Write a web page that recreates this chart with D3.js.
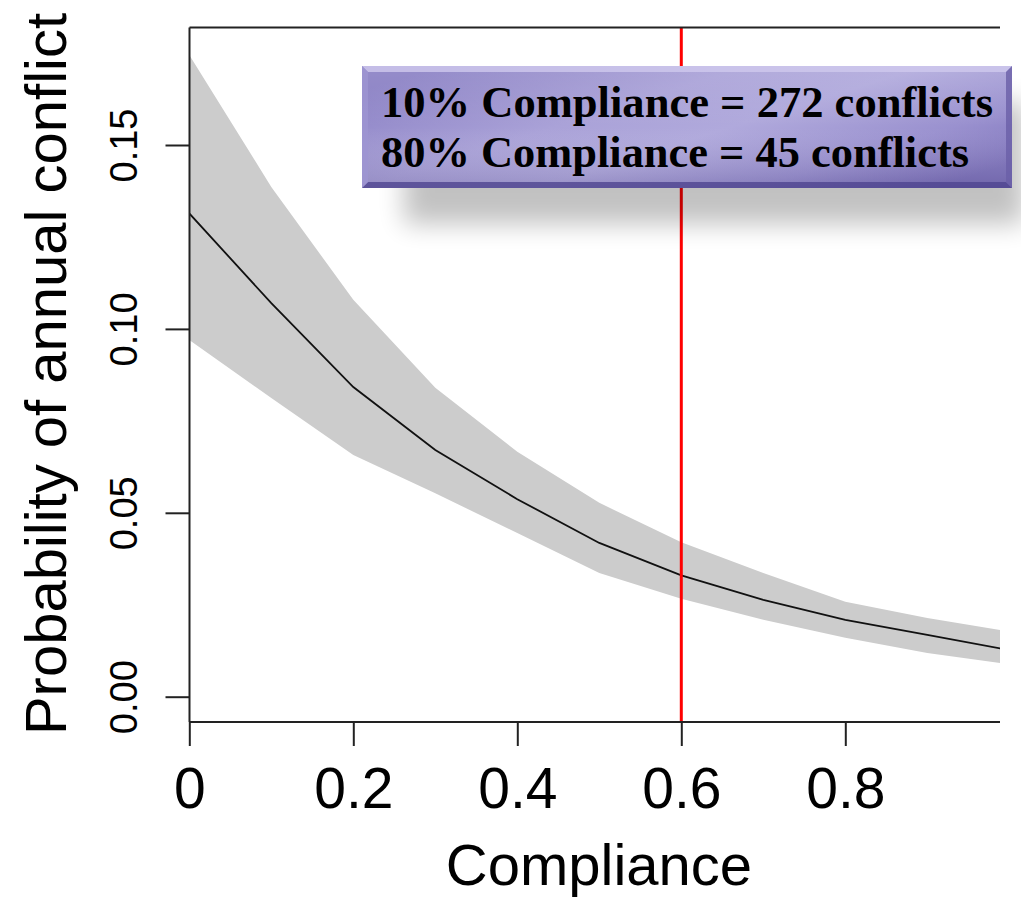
<!DOCTYPE html>
<html>
<head>
<meta charset="utf-8">
<script src="https://cdn.jsdelivr.net/npm/d3@7"></script>
<style>
html,body{margin:0;padding:0;background:#fff;}
svg{display:block;}
</style>
</head>
<body>
<svg id="chart" width="1021" height="897"></svg>
<script>
// ---- data ----
const compliance = [0, 0.1, 0.2, 0.3, 0.4, 0.5, 0.6, 0.7, 0.8, 0.9, 0.99];
const meanProb   = [0.1314, 0.1070, 0.0842, 0.0671, 0.0537, 0.0418, 0.0330, 0.0263, 0.0209, 0.0168, 0.0131];
const upperProb  = [0.1745, 0.1386, 0.1079, 0.0840, 0.0666, 0.0527, 0.0420, 0.0336, 0.0258, 0.0214, 0.0181];
const lowerProb  = [0.0970, 0.0812, 0.0657, 0.0553, 0.0445, 0.0336, 0.0266, 0.0209, 0.0160, 0.0119, 0.0091];
const xTicks = [0, 0.2, 0.4, 0.6, 0.8];
const xTickLabels = ["0", "0.2", "0.4", "0.6", "0.8"];
const yTicks = [0, 0.05, 0.10, 0.15];
const yTickLabels = ["0.00", "0.05", "0.10", "0.15"];
const markerX = 0.6;
const annotationLines = ["10% Compliance = 272 conflicts", "80% Compliance = 45 conflicts"];
const xTitle = "Compliance";
const yTitle = "Probability of annual conflict";

// ---- layout ----
const svg = d3.select("#chart");
const plotLeft = 189.5, plotRight = 1000, plotTop = 27.5, plotBottom = 722;
const x = d3.scaleLinear().domain([0, 1]).range([189.3, 1009.3]);
const y = d3.scaleLinear().domain([0, 0.15]).range([696.7, 145]);

const defs = svg.append("defs");
defs.append("clipPath").attr("id", "plotclip")
  .append("rect").attr("x", plotLeft).attr("y", plotTop)
  .attr("width", plotRight - plotLeft).attr("height", plotBottom - plotTop);

const data = compliance.map((c, i) => ({c, m: meanProb[i], u: upperProb[i], l: lowerProb[i]}));

const plot = svg.append("g").attr("clip-path", "url(#plotclip)");
plot.append("path").datum(data)
  .attr("d", d3.area().x(d => x(d.c)).y0(d => y(d.l)).y1(d => y(d.u)))
  .attr("fill", "#cccccc");
plot.append("path").datum(data)
  .attr("d", d3.line().x(d => x(d.c)).y(d => y(d.m)))
  .attr("fill", "none").attr("stroke", "#111").attr("stroke-width", 1.8);

// red marker line
svg.append("line")
  .attr("x1", x(markerX)).attr("x2", x(markerX))
  .attr("y1", plotTop).attr("y2", plotBottom)
  .attr("stroke", "#ff0000").attr("stroke-width", 3);

// spines
const axisColor = "#222";
svg.append("line").attr("x1", plotLeft).attr("x2", plotRight).attr("y1", plotTop).attr("y2", plotTop)
  .attr("stroke", axisColor).attr("stroke-width", 2);

// axes via d3
const xAxis = d3.axisBottom(x).tickValues(xTicks).tickSize(24).tickSizeOuter(0)
  .tickFormat((d, i) => xTickLabels[i]).tickPadding(14);
const gx = svg.append("g").attr("transform", `translate(0,${plotBottom})`).call(xAxis);
gx.select(".domain").attr("d", `M${plotLeft},0H${plotRight}`).attr("stroke", axisColor).attr("stroke-width", 2);
gx.selectAll(".tick line").attr("stroke", axisColor).attr("stroke-width", 2);
gx.selectAll(".tick text").attr("font-family", "Liberation Sans, Arial, sans-serif")
  .attr("font-size", 57).attr("fill", "#000").attr("dy", null).attr("y", 0)
  .attr("transform", "translate(0,86)");

const yAxis = d3.axisLeft(y).tickValues(yTicks).tickSize(24).tickSizeOuter(0)
  .tickFormat((d, i) => yTickLabels[i]);
const gy = svg.append("g").attr("transform", `translate(${plotLeft},0)`).call(yAxis);
gy.select(".domain").attr("d", `M0,${plotTop}V${plotBottom}`).attr("stroke", axisColor).attr("stroke-width", 2);
gy.selectAll(".tick line").attr("stroke", axisColor).attr("stroke-width", 2);
gy.selectAll(".tick text")
  .attr("font-family", "Liberation Sans, Arial, sans-serif")
  .attr("font-size", 38).attr("fill", "#000")
  .attr("x", null).attr("dy", null)
  .attr("text-anchor", "middle")
  .attr("transform", "translate(-52.5,0) rotate(-90)");

// titles
svg.append("text").attr("x", 599).attr("y", 885)
  .attr("text-anchor", "middle")
  .attr("font-family", "Liberation Sans, Arial, sans-serif")
  .attr("font-size", 58).attr("fill", "#000").text(xTitle);
svg.append("text")
  .attr("transform", "translate(66,374) rotate(-90)")
  .attr("text-anchor", "middle")
  .attr("font-family", "Liberation Sans, Arial, sans-serif")
  .attr("font-size", 58).attr("fill", "#000").text(yTitle);

// ---- annotation box ----
const bx = 362, by = 66, bw = 650, bh = 122;
const shadowF = defs.append("filter").attr("id", "shadow")
  .attr("x", "-20%").attr("y", "-60%").attr("width", "140%").attr("height", "220%");
shadowF.append("feGaussianBlur").attr("stdDeviation", 13);

const g1 = defs.append("linearGradient").attr("id", "boxgrad").attr("x1", "0").attr("x2", "1").attr("y1", "0.2").attr("y2", "0.8");
[["0%", "#8a80c4"], ["35%", "#aaa2d8"], ["55%", "#b0a9dc"], ["80%", "#9a91cf"], ["100%", "#7f74bb"]]
  .forEach(([o, c]) => g1.append("stop").attr("offset", o).attr("stop-color", c));
const g2 = defs.append("linearGradient").attr("id", "boxvert").attr("x1", "0").attr("x2", "0").attr("y1", "0").attr("y2", "1");
[["0%", "#ffffff", 0.10], ["50%", "#ffffff", 0.0], ["100%", "#2a2060", 0.18]]
  .forEach(([o, c, a]) => g2.append("stop").attr("offset", o).attr("stop-color", c).attr("stop-opacity", a));

svg.append("rect").attr("x", bx + 42).attr("y", by + 36).attr("width", bw - 30).attr("height", bh)
  .attr("fill", "#000").attr("opacity", 0.24).attr("filter", "url(#shadow)");
svg.append("rect").attr("x", bx).attr("y", by).attr("width", bw).attr("height", bh).attr("fill", "url(#boxgrad)");
svg.append("rect").attr("x", bx).attr("y", by).attr("width", bw).attr("height", bh).attr("fill", "url(#boxvert)");
// bevel edges
const bev = 6;
svg.append("polygon").attr("points", `${bx},${by} ${bx+bw},${by} ${bx+bw-bev},${by+bev} ${bx+bev},${by+bev}`)
  .attr("fill", "#cfc9ee").attr("opacity", 0.8);
svg.append("polygon").attr("points", `${bx},${by+bh} ${bx+bw},${by+bh} ${bx+bw-bev},${by+bh-bev} ${bx+bev},${by+bh-bev}`)
  .attr("fill", "#4f4590").attr("opacity", 0.8);
svg.append("polygon").attr("points", `${bx},${by} ${bx+bev},${by+bev} ${bx+bev},${by+bh-bev} ${bx},${by+bh}`)
  .attr("fill", "#9d95d2").attr("opacity", 0.8);
svg.append("polygon").attr("points", `${bx+bw},${by} ${bx+bw-bev},${by+bev} ${bx+bw-bev},${by+bh-bev} ${bx+bw},${by+bh}`)
  .attr("fill", "#6a5fa8").attr("opacity", 0.8);

const lineWidths = [612, 588];
annotationLines.forEach((t, i) => {
  svg.append("text").attr("x", 381).attr("y", 117 + i * 50)
    .attr("font-family", "Liberation Serif, 'DejaVu Serif', serif")
    .attr("font-weight", "bold").attr("font-size", 44).attr("fill", "#000")
    .attr("textLength", lineWidths[i]).attr("lengthAdjust", "spacingAndGlyphs")
    .text(t);
});
</script>
</body>
</html>
